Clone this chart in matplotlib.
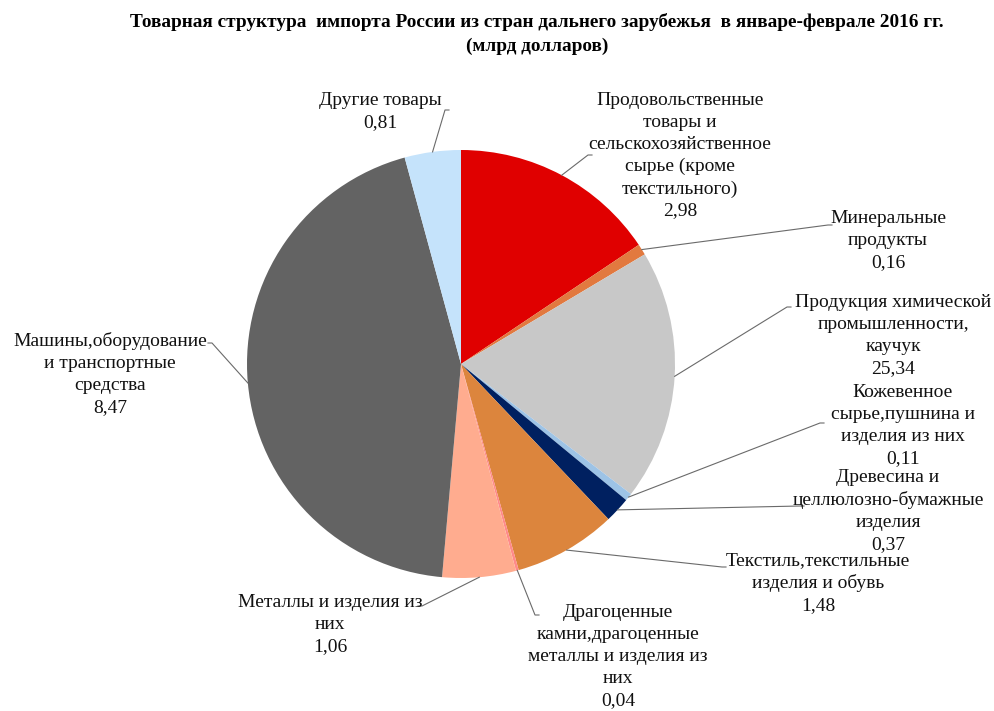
import numpy as np
import matplotlib.pyplot as plt

plt.rcParams['font.family'] = ['Liberation Serif', 'DejaVu Serif']

categories = [
    "Продовольственные\nтовары и\nсельскохозяйственное\nсырье (кроме\nтекстильного)",
    "Минеральные\nпродукты",
    "Продукция химической\nпромышленности,\nкаучук",
    "Кожевенное\nсырье,пушнина и\nизделия из них",
    "Древесина и\nцеллюлозно-бумажные\nизделия",
    "Текстиль,текстильные\nизделия и обувь",
    "Драгоценные\nкамни,драгоценные\nметаллы и изделия из\nних",
    "Металлы и изделия из\nних",
    "Машины,оборудование\nи транспортные\nсредства",
    "Другие товары",
]
# slice sizes as drawn (the chemical slice is drawn at ~3.6 although its label reads 25,34)
values = [2.98, 0.16, 3.62, 0.11, 0.37, 1.48, 0.04, 1.06, 8.47, 0.81]
value_labels = ["2,98", "0,16", "25,34", "0,11", "0,37", "1,48", "0,04", "1,06", "8,47", "0,81"]
colors = ["#E00000", "#E2793F", "#C8C8C8", "#9DC3E6", "#002060",
          "#DC853D", "#FF8A8A", "#FFAC8F", "#636363", "#C5E3FB"]

# label block centres (x, top y) and elbow point of the leader, in pixels from top-left
label_pos = [(680, 92), (888, 210), (893, 294), (903, 384), (888, 469),
             (818, 552), (618, 604), (330, 594), (110, 332), (380, 92)]
elbows = [(588, 155), (828, 225), (787, 307), (820, 423), (800, 506),
          (722, 567), (535, 615), (422, 606), (212, 343), (445, 110)]

W, H = 994, 711
fig = plt.figure(figsize=(W / 100, H / 100), dpi=100)
ax = fig.add_axes([0, 0, 1, 1])

cx, cy, r = 461, H - 364, 214
wedges, _ = ax.pie(values, colors=colors, startangle=90, counterclock=False,
                   center=(cx, cy), radius=r, frame=True,
                   wedgeprops=dict(linewidth=0))
ax.set_xlim(0, W)
ax.set_ylim(0, H)
ax.set_aspect("equal")
ax.axis("off")

for w, cat, vl, (lx, ly), (ex, ey) in zip(wedges, categories, value_labels, label_pos, elbows):
    mid = np.deg2rad((w.theta1 + w.theta2) / 2)
    px, py = cx + r * np.cos(mid), cy + r * np.sin(mid)
    ey = H - ey
    hx = ex + (4 if ex > px else -4)
    ax.plot([px, ex, hx], [py, ey, ey], color="#6a6a6a", lw=0.8)
    ax.text(lx, H - ly, cat + "\n" + vl, ha="center", va="top",
            fontsize=14, linespacing=1.38, color="#111111")

fig.text(0.54, 1 - 22 / H, "Товарная структура  импорта России из стран дальнего зарубежья  в январе-феврале 2016 гг.",
         ha="center", va="center", fontsize=13.9, fontweight="bold")
fig.text(0.54, 1 - 46 / H, "(млрд долларов)", ha="center", va="center",
         fontsize=13.9, fontweight="bold")

fig.savefig("out.png", dpi=100)
